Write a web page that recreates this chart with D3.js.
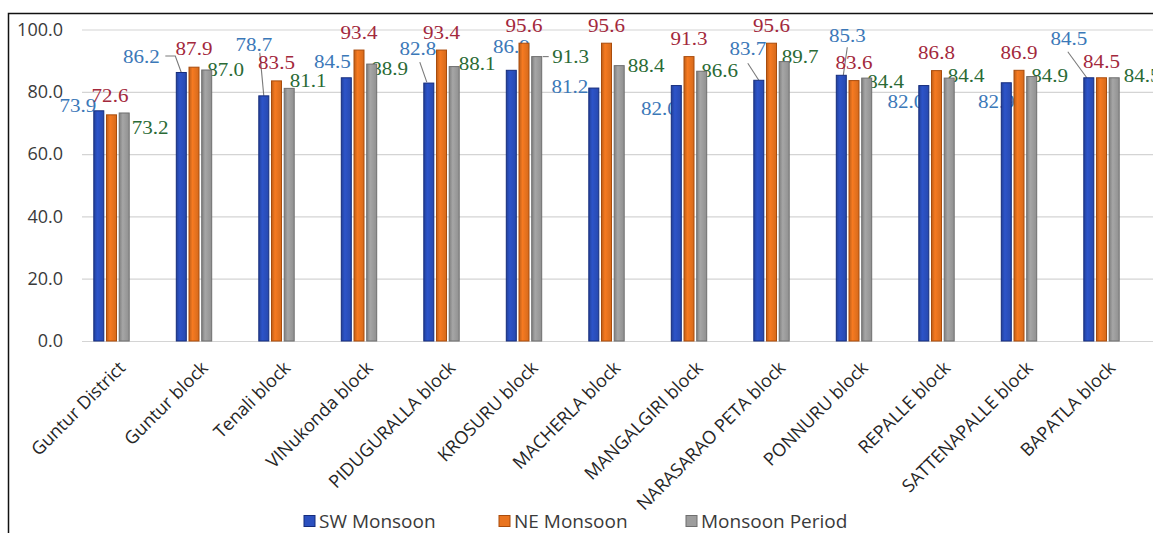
<!DOCTYPE html>
<html>
<head>
<meta charset="utf-8">
<script src="https://cdn.jsdelivr.net/npm/d3@7"></script>
<style>
  html, body { margin: 0; padding: 0; background: #ffffff; }
  svg { display: block; }
</style>
</head>
<body>
<svg id="chart" width="1153" height="533"></svg>
<script>
// ---- data -------------------------------------------------------------
const categories = [
  "Guntur District", "Guntur block", "Tenali block", "VINukonda block",
  "PIDUGURALLA block", "KROSURU block", "MACHERLA block", "MANGALGIRI block",
  "NARASARAO PETA block", "PONNURU block", "REPALLE block",
  "SATTENAPALLE block", "BAPATLA block"
];
const swMonsoon     = [73.9, 86.2, 78.7, 84.5, 82.8, 86.9, 81.2, 82.0, 83.7, 85.3, 82.0, 82.9, 84.5];
const neMonsoon     = [72.6, 87.9, 83.5, 93.4, 93.4, 95.6, 95.6, 91.3, 95.6, 83.6, 86.8, 86.9, 84.5];
const monsoonPeriod = [73.2, 87.0, 81.1, 88.9, 88.1, 91.3, 88.4, 86.6, 89.7, 84.4, 84.4, 84.9, 84.5];
const seriesNames   = ["SW Monsoon", "NE Monsoon", "Monsoon Period"];
const yTickValues   = [0, 20, 40, 60, 80, 100];

// ---- label layout: [dx, dy] from a bar's top centre to its label -------
const swLabelShift = [[-21, 1], [-40, -9.5], [-10, -45], [-14, -10], [-11, -28], [0, -17],
                      [-24, 5], [-17, 29], [-11, -25], [6, -33], [-18, 22], [-10, 25], [-20, -33]];
const neLabelShift = [[-1.5, -13], [0, -12], [0, -12], [0, -11], [0, -11], [0, -11],
                      [0, -11], [0, -12], [0, -11], [0, -12], [0, -12], [0, -11], [0, -10]];
const mpLabelShift = [[26, 21], [19, 6], [19, -1], [18, 11], [23, 3], [34, 6],
                      [27, 6], [18, 6], [16, 1], [19, 10], [17, 4], [18, 5], [28, 4]];

// leader lines: series index, category index, points relative to the bar's top centre
const leaderLines = [
  { s: 0, i: 1,  pts: [[0, 0], [-6, -16.5], [-16, -16.5]] },
  { s: 0, i: 2,  pts: [[0, 0], [-4, -43]] },
  { s: 0, i: 4,  pts: [[-2, -1], [-9, -21]] },
  { s: 2, i: 5,  pts: [[6, 0], [12, 0]] },
  { s: 0, i: 8,  pts: [[0, 0], [-11, -17]] },
  { s: 0, i: 9,  pts: [[2, 0], [6, -28]] },
  { s: 0, i: 12, pts: [[-2, 0], [-21, -26]] }
];

// ---- styling ------------------------------------------------------------
const barFill   = ["#2b50bf", "#e9741f", "#9d9d9d"];
const barEdge   = ["#152c7c", "#a94c0c", "#6f6f6f"];
const labelInk  = ["#3b78b8", "#a3283c", "#2a6a35"];
const sansFont  = "'Open Sans', 'Noto Sans', sans-serif";
const serifFont = "'Liberation Serif', 'DejaVu Serif', serif";

const seriesValues = [swMonsoon, neMonsoon, monsoonPeriod];
const labelShifts  = [swLabelShift, neLabelShift, mpLabelShift];

const svg = d3.select("#chart");

// ---- scales -----------------------------------------------------------
const x = d3.scaleBand()
  .domain(categories)
  .range([70.25, 1142.75])
  .paddingInner(0).paddingOuter(0);

const xInner = d3.scaleBand()
  .domain(d3.range(3))
  .range([-17.7, 17.7])
  .paddingInner(0.213).paddingOuter(0);

const y = d3.scaleLinear().domain([0, 100]).range([341, 29.5]);

const barCx = (s, i) => x(categories[i]) + x.bandwidth() / 2 + xInner(s) + xInner.bandwidth() / 2;

// ---- frame --------------------------------------------------------------
svg.append("rect")
  .attr("x", 8.5).attr("y", 13.5)
  .attr("width", 1200).attr("height", 600)
  .attr("fill", "none").attr("stroke", "#111").attr("stroke-width", 1.5);

// ---- gradients for the bars ----------------------------------------------
const defs = svg.append("defs");
barFill.forEach((c, s) => {
  const g = defs.append("linearGradient").attr("id", "barGrad" + s)
    .attr("x1", "0").attr("x2", "1").attr("y1", "0").attr("y2", "0");
  const base = d3.color(c);
  g.append("stop").attr("offset", "0%").attr("stop-color", base.darker(0.6));
  g.append("stop").attr("offset", "35%").attr("stop-color", base.brighter(0.15));
  g.append("stop").attr("offset", "100%").attr("stop-color", base.darker(0.25));
});

// ---- y axis: gridlines and tick labels ------------------------------------
const yAxis = d3.axisLeft(y)
  .tickValues(yTickValues)
  .tickFormat(d3.format(".1f"))
  .tickSize(-(1153 - 82))
  .tickPadding(19);

const yG = svg.append("g").attr("transform", "translate(82,0)").call(yAxis);
yG.select(".domain").remove();
yG.selectAll(".tick line").attr("stroke", "#d4d4d4").attr("stroke-width", 1.2);
yG.selectAll(".tick text")
  .attr("fill", "#3a3a3a")
  .style("font-family", sansFont)
  .style("font-size", "18px");

// ---- x axis labels -------------------------------------------------------
const xG = svg.append("g");
xG.selectAll("text")
  .data(categories)
  .join("text")
  .attr("transform", d => `translate(${x(d) + x.bandwidth() / 2 + 15},369) rotate(-45)`)
  .attr("text-anchor", "end")
  .attr("fill", "#262626")
  .style("font-family", sansFont)
  .style("font-size", "18px")
  .text(d => d);

// ---- leader lines and data labels (beneath the bars) --------------------------
const line = d3.line();
svg.append("g").selectAll("path")
  .data(leaderLines)
  .join("path")
  .attr("d", d => {
    const bx = barCx(d.s, d.i), by = y(seriesValues[d.s][d.i]);
    return line(d.pts.map(p => [bx + p[0], by + p[1]]));
  })
  .attr("fill", "none")
  .attr("stroke", "#7a7a7a")
  .attr("stroke-width", 1.1);

const labelG = svg.append("g");
seriesValues.forEach((vals, s) => {
  labelG.append("g").selectAll("text")
    .data(vals)
    .join("text")
    .attr("transform", (v, i) => {
      const lx = barCx(s, i) + labelShifts[s][i][0];
      const ly = y(v) + labelShifts[s][i][1];
      return `translate(${lx},${ly}) scale(1.17,1)`;
    })
    .attr("text-anchor", "middle")
    .attr("fill", labelInk[s])
    .style("font-family", serifFont)
    .style("font-size", "18px")
    .text(v => d3.format(".1f")(v));
});

// ---- bars -------------------------------------------------------------------
const barsG = svg.append("g");
seriesValues.forEach((vals, s) => {
  barsG.append("g").selectAll("rect")
    .data(vals)
    .join("rect")
    .attr("x", (v, i) => barCx(s, i) - xInner.bandwidth() / 2)
    .attr("y", v => y(v))
    .attr("width", xInner.bandwidth())
    .attr("height", v => y(0) - y(v))
    .attr("fill", `url(#barGrad${s})`)
    .attr("stroke", barEdge[s])
    .attr("stroke-width", 1);
});

// ---- legend --------------------------------------------------------------
const legendX = [304, 499, 686];
const legend = svg.append("g");
seriesNames.forEach((name, s) => {
  legend.append("rect")
    .attr("x", legendX[s]).attr("y", 515.5)
    .attr("width", 11).attr("height", 11)
    .attr("fill", barFill[s]).attr("stroke", barEdge[s]).attr("stroke-width", 1);
  legend.append("text")
    .attr("x", legendX[s] + 15).attr("y", 528)
    .attr("fill", "#3a3a3a")
    .style("font-family", sansFont)
    .style("font-size", "19px")
    .text(name);
});
</script>
</body>
</html>
